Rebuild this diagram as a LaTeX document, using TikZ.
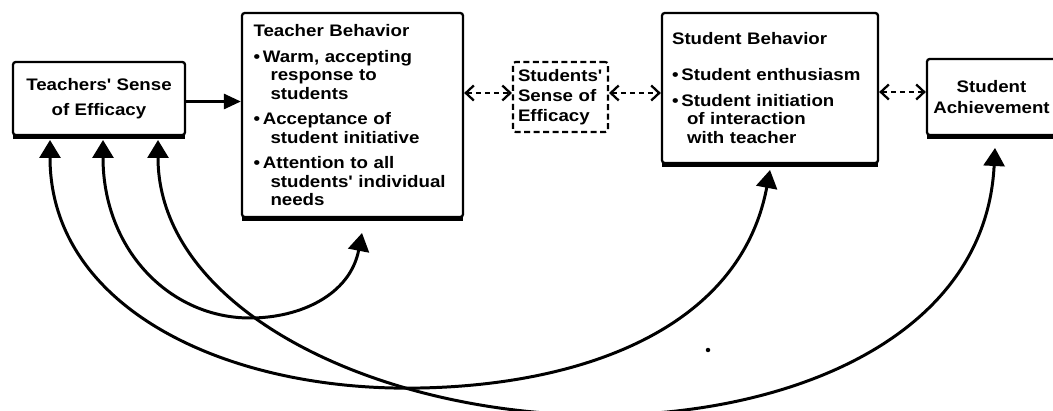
\documentclass[tikz,border=0pt]{standalone}
\usepackage{fontspec}
\newfontfamily\boxfont[FakeStretch=1.12]{Liberation Sans}
\usetikzlibrary{arrows.meta, positioning}

\tikzset{
    box/.style={draw, line width=1.3pt, rounded corners=1.5pt, inner ysep=0pt,
        font=\boxfont\bfseries\fontsize{9.5pt}{10.5pt}\selectfont},
    dashbox/.style={box, line width=1.2pt, dash pattern=on 0.12cm off 0.07cm},
    mainarrow/.style={line width=1.6pt, -{Triangle[length=0.34cm, width=0.3cm]}},
    dasharrow/.style={line width=1.3pt, dash pattern=on 0.1cm off 0.08cm,
        {Straight Barb[length=0.16cm, width=0.3cm, line width=1.3pt]}-{Straight Barb[length=0.16cm, width=0.3cm, line width=1.3pt]}},
    fbarrow/.style={line width=1.7pt,
        {Triangle[length=0.36cm, width=0.42cm]}-{Triangle[length=0.36cm, width=0.42cm]}}
}

\begin{document}
\begin{tikzpicture}[x=0.02cm, y=-0.02cm]
    \useasboundingbox (0,0) rectangle (1053,411);

    % --- boxes ---
    \node[box, align=center, minimum width=3.44cm, minimum height=1.46cm] (tse) at (99,98.5)
        {Teachers' Sense\\[3.5pt]of Efficacy};

    \node[box, align=left, text width=3.96cm, inner xsep=0.23cm, minimum height=4.08cm] (tb) at (352.5,115)
        {Teacher Behavior\\[4.5pt]
         \textbullet\,Warm, accepting\\
         \hspace*{0.34cm}response to\\
         \hspace*{0.34cm}students\\[4pt]
         \textbullet\,Acceptance of\\
         \hspace*{0.34cm}student initiative\\[4pt]
         \textbullet\,Attention to all\\
         \hspace*{0.34cm}students' individual\\
         \hspace*{0.34cm}needs};

    \node[dashbox, align=left, text width=1.7cm, inner xsep=0.1cm, minimum height=1.4cm] (sse) at (560.5,97)
        {Students'\\[1pt]Sense of\\[1pt]Efficacy};

    \node[box, align=left, text width=3.92cm, inner xsep=0.2cm, minimum height=3.0cm] (sb) at (770,88)
        {Student Behavior\\[10pt]
         \textbullet\,Student enthusiasm\\[4pt]
         \textbullet\,Student initiation\\
         \hspace*{0.3cm}of interaction\\
         \hspace*{0.3cm}with teacher};

    \node[box, align=center, minimum width=2.58cm, minimum height=1.52cm] (sa) at (991.5,97)
        {Student\\[1pt]Achievement};

    % heavy bottom edges
    \foreach \n in {tse,tb,sb,sa}
        \draw[line width=2.8pt] ([xshift=0.03cm]\n.south west) -- ([xshift=-0.03cm]\n.south east);

    % --- arrows between boxes ---
    \draw[mainarrow] ([yshift=-0.06cm]tse.east) -- ([yshift=-0.06cm]tse.east -| tb.west);
    \draw[dasharrow] ([yshift=0.08cm]tb.east |- sse.west) -- ([yshift=0.08cm]sse.west);
    \draw[dasharrow] ([yshift=0.08cm]sse.east) -- ([yshift=0.08cm]sse.east -| sb.west);
    \draw[dasharrow] ([yshift=0.1cm]sb.east |- sa.west) -- ([yshift=0.1cm]sa.west);

    % --- feedback curves ---
    \coordinate (tseA) at (50,140);
    \coordinate (tseB) at (103,140);
    \coordinate (tseC) at (158,140);
    \coordinate (tbS) at (362,233);
    \coordinate (sbS) at (770,170);
    \coordinate (saS) at (995,148);

    \draw[fbarrow] (tseB) .. controls (103,250) and (170,318) .. (250,318)
                          .. controls (300,318) and (350,295) .. (tbS);
    \draw[fbarrow] (tseA) .. controls (50,310) and (230,392) .. (420,388)
                          .. controls (580,385) and (740,330) .. (sbS);
    \draw[fbarrow] (tseC) .. controls (158,300) and (350,402) .. (560,414)
                          .. controls (760,426) and (985,350) .. (saS);

    \fill (708,350) circle[radius=0.045cm];
\end{tikzpicture}
\end{document}
